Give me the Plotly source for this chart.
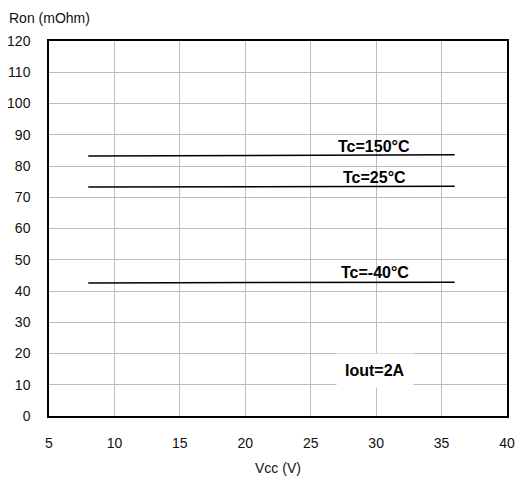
import plotly.graph_objects as go

vcc = [8, 36]
ron_150 = [83.2, 83.6]
ron_25 = [73.3, 73.5]
ron_m40 = [42.6, 42.8]

labels = ["Tc=150°C", "Tc=25°C", "Tc=-40°C", "Iout=2A"]
label_x = [29.8, 29.85, 29.95, 29.95]
label_y = [86.2, 76.2, 46.0, 14.6]

FONT = "Liberation Sans, Arial"

fig = go.Figure()
for ys in [ron_150, ron_25, ron_m40]:
    fig.add_trace(go.Scatter(x=vcc, y=ys, mode="lines",
                             line=dict(color="black", width=1.5),
                             showlegend=False, hoverinfo="skip"))

for i, (t, x, y) in enumerate(zip(labels, label_x, label_y)):
    fig.add_annotation(x=x, y=y, text="<b>%s</b>" % t, showarrow=False,
                       font=dict(family=FONT, size=16, color="black"),
                       bgcolor="white" if i == 3 else "rgba(0,0,0,0)",
                       borderpad=8 if i == 3 else 0)

fig.add_annotation(x=0, y=1, xref="paper", yref="paper", xanchor="left", yanchor="bottom",
                   text="Ron (mOhm)", showarrow=False, xshift=-42, yshift=13,
                   font=dict(family=FONT, size=14, color="#111"))
fig.add_annotation(x=0.5, y=0, xref="paper", yref="paper", xanchor="center", yanchor="top",
                   text="Vcc (V)", showarrow=False, yshift=-42,
                   font=dict(family=FONT, size=14, color="#111"))

fig.update_layout(
    width=526, height=478,
    margin=dict(l=49, r=19, t=41, b=62, autoexpand=False),
    paper_bgcolor="white", plot_bgcolor="white",
    font=dict(family=FONT, size=14, color="#111"),
    xaxis=dict(range=[5, 40], dtick=5, tick0=5, showgrid=True, gridcolor="#bdbdbd", gridwidth=1,
               showline=True, linecolor="black", linewidth=1.5, mirror=True,
               ticks="", zeroline=False, ticklabelstandoff=13, automargin=False),
    yaxis=dict(range=[0, 120], dtick=10, showgrid=True, gridcolor="#bdbdbd", gridwidth=1,
               showline=True, linecolor="black", linewidth=1.5, mirror=True,
               ticks="", zeroline=False, ticklabelstandoff=14, automargin=False),
)

fig.write_html("out.html")
